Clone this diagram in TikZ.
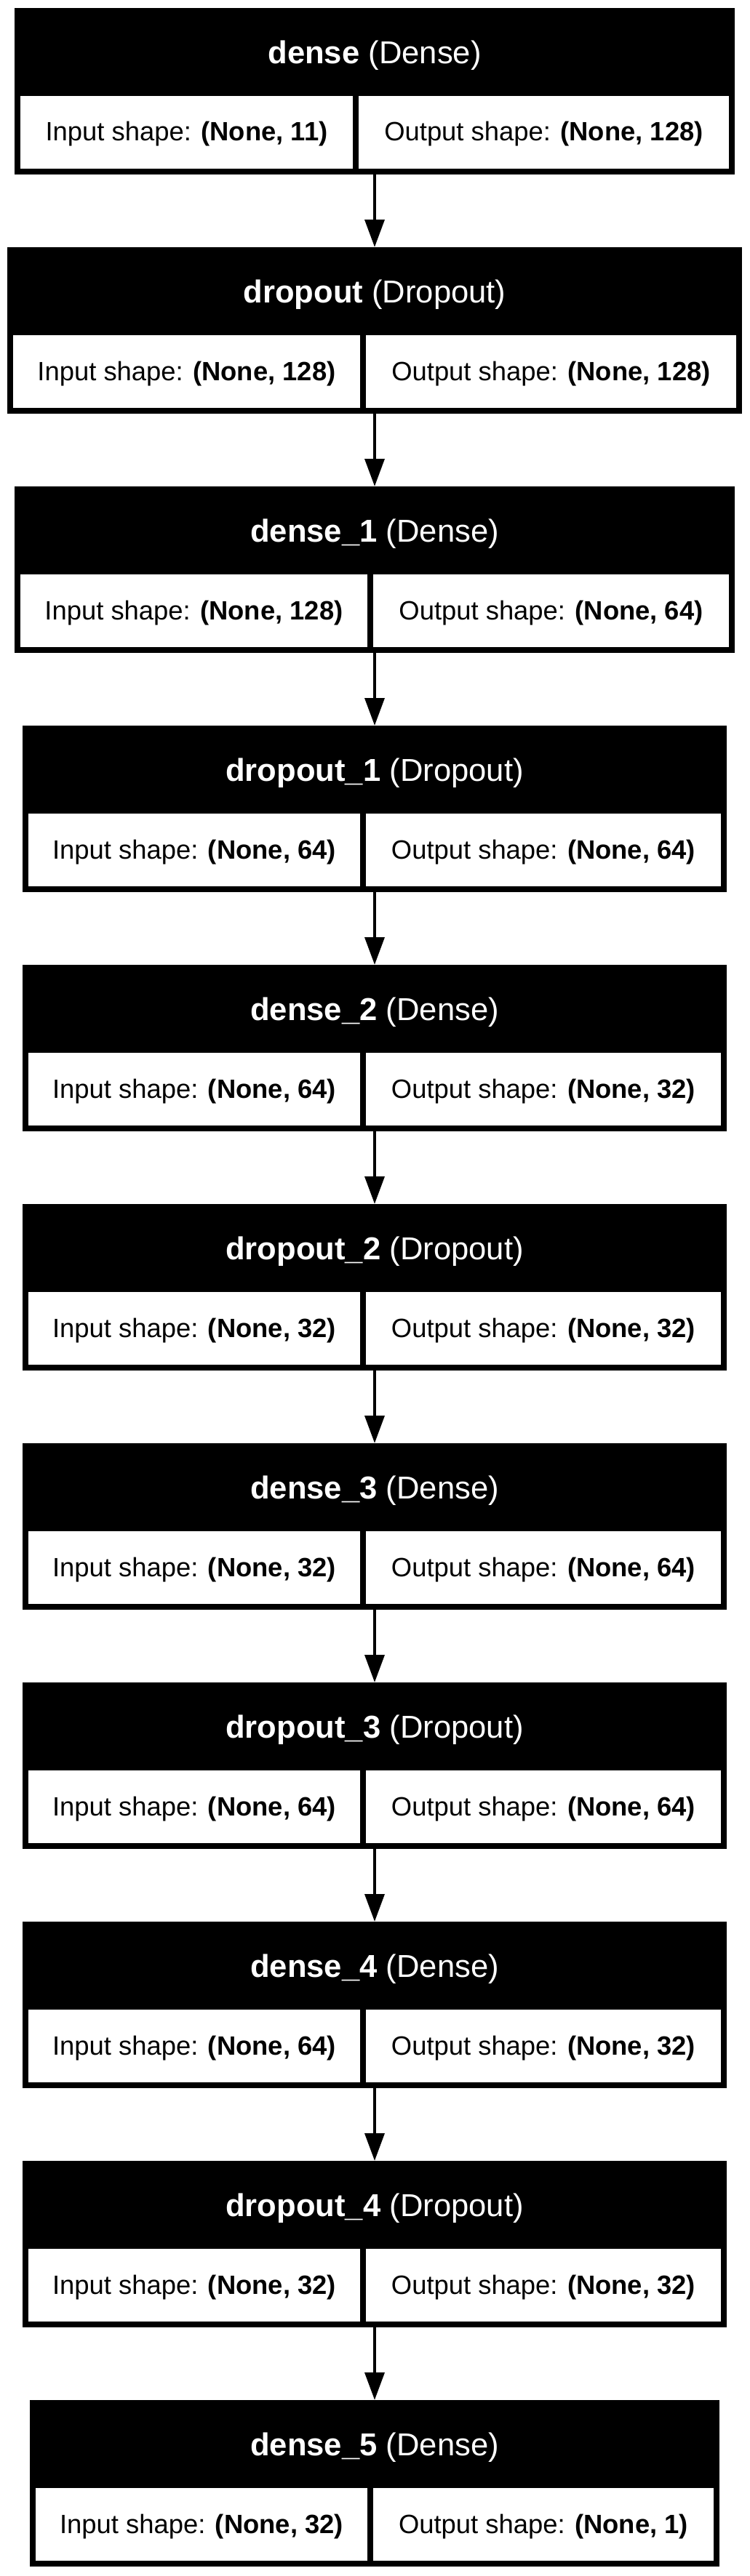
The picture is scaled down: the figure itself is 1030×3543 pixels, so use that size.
\documentclass[tikz,border=0pt]{standalone}
\usepackage{fontspec}
\setmainfont{Liberation Sans}
\usetikzlibrary{arrows.meta}
\tikzset{
  outerbox/.style={fill=black, draw=none, inner sep=0pt, outer sep=0pt, minimum height=114.5pt},
  cellbox/.style={fill=white, draw=none, inner sep=0pt, outer sep=0pt, minimum height=50pt},
  headtxt/.style={text=white, inner sep=0pt, anchor=base, font=\fontsize{21.8pt}{26pt}\selectfont},
  celltxt/.style={text=black, inner sep=0pt, anchor=base, font=\fontsize{18.2pt}{22pt}\selectfont},
  flow/.style={line width=2.4pt, -{Triangle[length=19pt,width=13.3pt]}},
}
% #1 name, #2 top, #3 x1, #4 x2, #5 end of left cell, #6 layer name, #7 class, #8 input, #9 output
\newcommand{\layerbox}[9]{%
  \pgfmathsetmacro\lbW{(#4-#3)/2}%
  \pgfmathsetmacro\lbCx{(#3+#4)/2}%
  \pgfmathsetmacro\lbCy{#2+114.5}%
  \pgfmathsetmacro\lbLW{(#5-#3-8)/2}%
  \pgfmathsetmacro\lbLx{(#3+8+#5)/2}%
  \pgfmathsetmacro\lbRW{(#4-#5-16)/2}%
  \pgfmathsetmacro\lbRx{(#5+#4)/2}%
  \pgfmathsetmacro\lbCellY{#2+171}%
  \pgfmathsetmacro\lbHY{#2+76.5}%
  \pgfmathsetmacro\lbTY{#2+183}%
  \node[outerbox, minimum width=\lbW pt] (#1) at (\lbCx,\lbCy) {};
  \node[cellbox, minimum width=\lbLW pt] (#1-in) at (\lbLx,\lbCellY) {};
  \node[cellbox, minimum width=\lbRW pt] (#1-out) at (\lbRx,\lbCellY) {};
  \node[headtxt] (#1-title) at (\lbCx,\lbHY) {\textbf{#6} (#7)};
  \node[celltxt] (#1-intxt) at (\lbLx,\lbTY) {Input shape: \textbf{(None, #8)}};
  \node[celltxt] (#1-outtxt) at (\lbRx,\lbTY) {Output shape: \textbf{(None, #9)}};
}
\begin{document}
\begin{tikzpicture}[x=0.5pt, y=-0.5pt]
\useasboundingbox[fill=white] (0,0) rectangle (1030,3543);
\layerbox{l1}{11}{20}{1010}{485}{dense}{Dense}{11}{128}
\layerbox{l2}{340}{10}{1020}{495}{dropout}{Dropout}{128}{128}
\layerbox{l3}{669}{20}{1010}{505}{dense\_1}{Dense}{128}{64}
\layerbox{l4}{998}{31}{999}{495}{dropout\_1}{Dropout}{64}{64}
\layerbox{l5}{1327}{31}{999}{495}{dense\_2}{Dense}{64}{32}
\layerbox{l6}{1656}{31}{999}{495}{dropout\_2}{Dropout}{32}{32}
\layerbox{l7}{1985}{31}{999}{495}{dense\_3}{Dense}{32}{64}
\layerbox{l8}{2314}{31}{999}{495}{dropout\_3}{Dropout}{64}{64}
\layerbox{l9}{2643}{31}{999}{495}{dense\_4}{Dense}{64}{32}
\layerbox{l10}{2972}{31}{999}{495}{dropout\_4}{Dropout}{32}{32}
\layerbox{l11}{3301}{41}{989}{505}{dense\_5}{Dense}{32}{1}
\foreach \a/\b in {l1/l2,l2/l3,l3/l4,l4/l5,l5/l6,l6/l7,l7/l8,l8/l9,l9/l10,l10/l11}
  \draw[flow] (\a.south) -- (\b.north);
\end{tikzpicture}
\end{document}
